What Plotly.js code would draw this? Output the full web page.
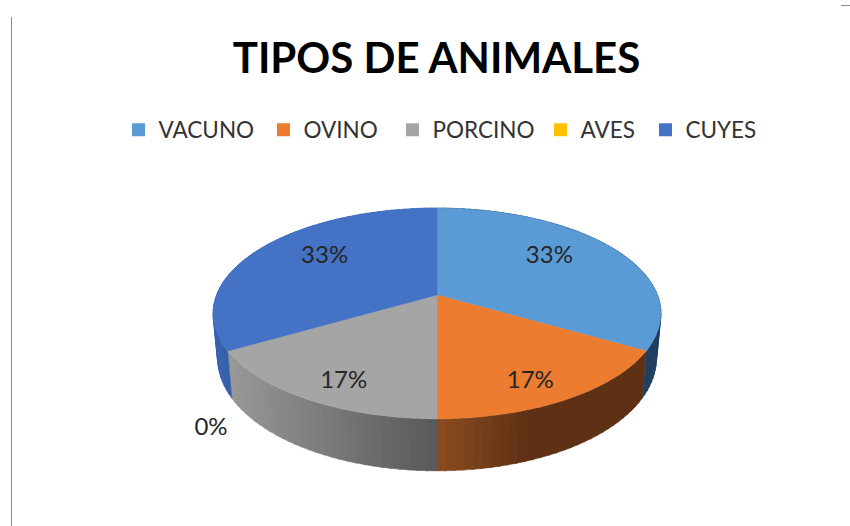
<!DOCTYPE html>
<html><head><meta charset="utf-8">
<script src="https://cdn.plot.ly/plotly-3.0.1.min.js"></script>
<style>html,body{margin:0;padding:0;background:#fff}#c{width:850px;height:526px}</style>
</head><body><div id="c"></div>
<script>
// DATA
const categories = ["VACUNO","OVINO","PORCINO","AVES","CUYES"];
const values = [2,1,1,0,2];
const titleText = "TIPOS DE ANIMALES";

// STYLE
const topColors = ["#5B9BD5","#EB7C30","#A5A5A5","#FFC000","#4472C4"];
const sideStart = ["#25466A","#8A4C20","#989898","#997300","#3A62AD"];
const sideEnd   = ["#1F3F60","#5E3114","#585858","#997300","#3560A8"];
const gradientSpan = [[437,661],[437,525],[232,437],[0,1],[213,232]];
const legendSwatchX = [138.5,283.5,412.5,560.5,665.5];
const labelOffset = [[-22,-2],[0,12],[0,12],[30,65],[22,-2]];

const CX=437, CY=295, R=220.5, B=102.2, K=0.175, SIDE_SCALE=0.98;
const total = values.reduce((a,b)=>a+b,0);
const pct = values.map(v=>Math.round(v/total*100)+"%");

function project(deg, r=1){
  const t = deg*Math.PI/180, X = r*Math.sin(t), Y = -r*Math.cos(t), d = 1-K*Y;
  return {u:X/d*R, v:Y/d*B, Y};
}
function topPt(deg,r=1){const p=project(deg,r);return [CX+p.u, CY+p.v];}
function botPt(deg){const p=project(deg);return [CX+p.u*SIDE_SCALE, CY+p.v+43+9*p.Y];}
const hex=c=>[1,3,5].map(i=>parseInt(c.substr(i,2),16));
function mix(a,b,t){t=Math.max(0,Math.min(1,t));const A=hex(a),B2=hex(b);
  return "rgb("+A.map((x,i)=>Math.round(x+(B2[i]-x)*t)).join(",")+")";}

// slice angles
let acc=0;
const slices = values.map(v=>{const s=acc/total*360;acc+=v;return [s,acc/total*360];});

const base = {xaxis:"x",yaxis:"y",hoverinfo:"skip",showlegend:false};
const traces=[];

// side wall, drawn as narrow strips for the shading
slices.forEach(([a,b],i)=>{
  if(b<=a) return;
  const STEP=2;
  for(let d=a;d<b;d+=STEP){
    const e=Math.min(b,d+STEP+0.4);
    const p1=topPt(d),p2=topPt(e),q2=botPt(e),q1=botPt(d);
    const mx=(q1[0]+q2[0])/2, sp=gradientSpan[i];
    const col=mix(sideStart[i],sideEnd[i],(mx-sp[0])/(sp[1]-sp[0]));
    traces.push({...base,type:"scatter",mode:"lines",fill:"toself",fillcolor:col,
      line:{color:col,width:0.5},
      x:[p1[0],p2[0],q2[0],q1[0],p1[0]],y:[p1[1],p2[1],q2[1],q1[1],p1[1]]});
  }
});
// top faces
slices.forEach(([a,b],i)=>{
  if(b<=a) return;
  const xs=[CX],ys=[CY];
  for(let d=a;d<=b+1e-6;d+=1){const p=topPt(d);xs.push(p[0]);ys.push(p[1]);}
  xs.push(CX);ys.push(CY);
  traces.push({...base,type:"scatter",mode:"lines",fill:"toself",fillcolor:topColors[i],
    line:{color:topColors[i],width:0.5},x:xs,y:ys});
});
// percentage labels
const lx=[],ly=[];
slices.forEach(([a,b],i)=>{
  const mid=(a+b)/2, r=values[i]===0?1.2:0.75, p=topPt(mid,r);
  lx.push(p[0]+labelOffset[i][0]);ly.push(p[1]+labelOffset[i][1]);
});
traces.push({...base,type:"scatter",mode:"text",x:lx,y:ly,text:pct,textposition:"middle center",
  textfont:{family:"Lato, sans-serif",size:24,color:"#262626"}});

// legend entries
const legends={};
categories.forEach((c,i)=>{
  const key=i===0?"legend":"legend"+(i+1);
  traces.push({type:"scatter",mode:"markers",x:[null],y:[null],name:c,legend:key,showlegend:true,hoverinfo:"skip",
    marker:{symbol:"square",size:13,color:topColors[i],line:{width:0}}});
  legends[key]={x:(legendSwatchX[i]-20)/850,xanchor:"left",y:1-130/526,yanchor:"middle",
    orientation:"h",bgcolor:"rgba(0,0,0,0)",borderwidth:0,
    font:{family:"Lato, sans-serif",size:22.5,color:"#333333"},itemclick:false,itemdoubleclick:false};
});

const layout={
  width:850,height:526,margin:{l:0,r:0,t:0,b:0},paper_bgcolor:"#fff",plot_bgcolor:"#fff",
  title:{text:titleText,x:436.5/850,xanchor:"center",y:1-58/526,yanchor:"middle",
    font:{family:"Lato, sans-serif",size:42,color:"#000",weight:700}},
  xaxis:{range:[0,850],visible:false,fixedrange:true},
  yaxis:{range:[526,0],visible:false,fixedrange:true},
  shapes:[
    {type:"line",xref:"paper",yref:"paper",x0:11.5/850,x1:11.5/850,y0:1-17/526,y1:0,line:{color:"#8c8c8c",width:1}},
    {type:"line",xref:"paper",yref:"paper",x0:841/850,x1:1,y0:1-5.5/526,y1:1-5.5/526,line:{color:"#8c8c8c",width:1}}
  ],
  ...legends
};
Plotly.newPlot("c",traces,layout,{displayModeBar:false,staticPlot:true});
</script></body></html>
